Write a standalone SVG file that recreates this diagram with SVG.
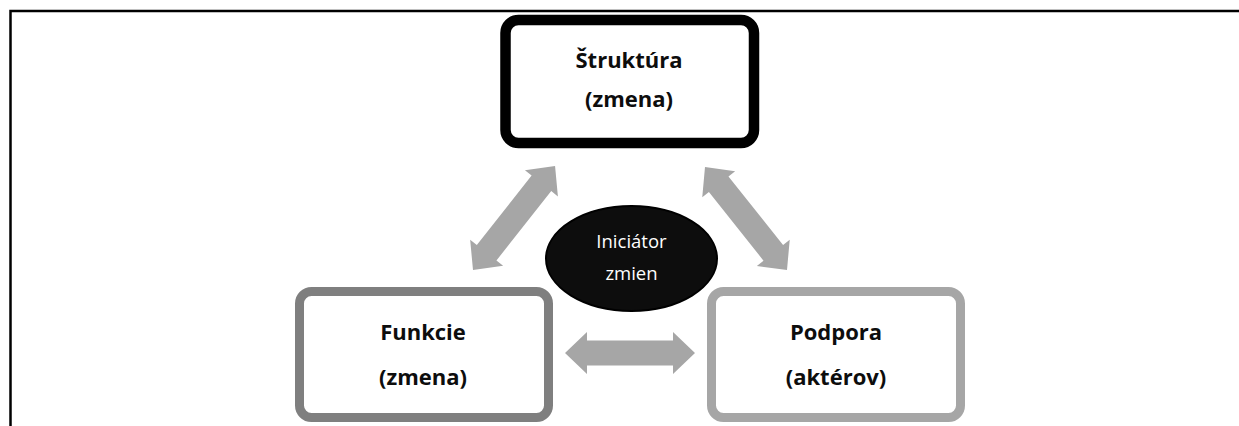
<svg xmlns="http://www.w3.org/2000/svg" width="1239" height="426" viewBox="0 0 1239 426">
<defs>
<style>
.frame{fill:none;stroke:#000;stroke-width:2.5}
.box{fill:#fff}
.lbl{font-family:"Open Sans","Noto Sans",sans-serif;font-weight:bold;font-size:22px;fill:#0d0d0d;text-anchor:middle}
.ini{font-family:"Open Sans","Noto Sans",sans-serif;font-size:18.5px;fill:#fff;text-anchor:middle}
.arr{fill:#a6a6a6}
</style>
</defs>
<rect width="1239" height="426" fill="#fff"/>
<path class="frame" d="M10.5,426 V11 H1239"/>
<g id="connectors">
<polygon class="arr" points="0,0 22,-21 22,-12.5 108,-12.5 108,-21 130,0 108,21 108,12.5 22,12.5 22,21" transform="translate(565,353)"/>
<polygon class="arr" points="0,0 22,-21 22,-12.5 110.4,-12.5 110.4,-21 132.4,0 110.4,21 110.4,12.5 22,12.5 22,21" transform="translate(473,270) rotate(-51.7)"/>
<polygon class="arr" points="0,0 22,-21 22,-12.5 109.7,-12.5 109.7,-21 131.7,0 109.7,21 109.7,12.5 22,12.5 22,21" transform="translate(705,167) rotate(51.5)"/>
</g>
<g id="struktura">
<rect class="box" x="505.5" y="20" width="248.5" height="123" rx="13" stroke="#000" stroke-width="10.5"/>
<text class="lbl" x="629" y="68">Štruktúra</text>
<text class="lbl" x="629" y="107">(zmena)</text>
</g>
<g id="funkcie">
<rect class="box" x="299.5" y="291.5" width="249" height="126" rx="12" stroke="#7f7f7f" stroke-width="9"/>
<text class="lbl" x="423" y="340">Funkcie</text>
<text class="lbl" x="423" y="385">(zmena)</text>
</g>
<g id="podpora">
<rect class="box" x="711.5" y="291.5" width="249" height="126" rx="12" stroke="#a6a6a6" stroke-width="9"/>
<text class="lbl" x="836" y="340">Podpora</text>
<text class="lbl" x="836" y="385">(aktérov)</text>
</g>
<g id="iniciator">
<ellipse cx="631.5" cy="258.5" rx="85.5" ry="52.5" fill="#0d0d0d" stroke="#000" stroke-width="2"/>
<text class="ini" x="631.5" y="248">Iniciátor</text>
<text class="ini" x="631.5" y="280">zmien</text>
</g>
</svg>
